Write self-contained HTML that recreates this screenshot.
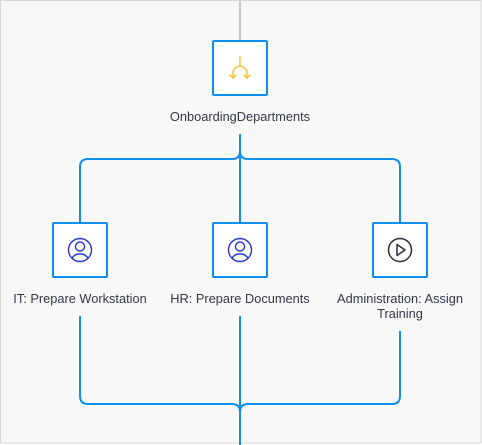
<!DOCTYPE html>
<html><head><style>
html,body{margin:0;padding:0;width:482px;height:445px;overflow:hidden;background:#fff}
svg{display:block}
text{font-family:"Liberation Sans",Arial,sans-serif;font-size:12.8px;fill:#333848}
</style></head><body>
<svg width="482" height="445" viewBox="0 0 482 445">
<rect x="0.5" y="0.5" width="480.5" height="442.5" fill="#f8f8f8" stroke="#d6d6d6"/>
<line x1="240" y1="1" x2="240" y2="41" stroke="#c8c8c8" stroke-width="2"/>
<g fill="none" stroke="#0f8fec" stroke-width="2">
<path d="M240 134 V159"/>
<path d="M80 223 V167 Q80 159 88 159 H232 Q240 159 240 151"/>
<path d="M400 223 V167 Q400 159 392 159 H248 Q240 159 240 151"/>
<path d="M240 159 V223"/>
<path d="M80 316 V396 Q80 404 88 404 H232 Q240 404 240 412"/>
<path d="M400 331 V396 Q400 404 392 404 H248 Q240 404 240 412"/>
<path d="M240 316 V445"/>
</g>
<g fill="#fff" stroke="#0f8fec" stroke-width="2">
<rect x="213" y="41" width="54" height="54" rx="1"/>
<rect x="53" y="223" width="54" height="54" rx="1"/>
<rect x="213" y="223" width="54" height="54" rx="1"/>
<rect x="373" y="223" width="54" height="54" rx="1"/>
</g>
<g fill="none" stroke="#f5c542" stroke-width="1.6" stroke-linecap="round" stroke-linejoin="round">
<path d="M240 57 V66"/>
<path d="M240 66 Q234 67 233 72 V78"/>
<path d="M240 66 Q246 67 247 72 V78"/>
<path d="M230 75 L233 78 L236 75"/>
<path d="M244 75 L247 78 L250 75"/>
</g>
<g fill="none" stroke="#2536d8" stroke-width="1.4">
<circle cx="80" cy="250" r="11.5"/><circle cx="80" cy="246.5" r="4.5"/>
<path d="M72 258.5 Q74 254 80 254 Q86 254 88 258.5"/>
<circle cx="240" cy="250" r="11.5"/><circle cx="240" cy="246.5" r="4.5"/>
<path d="M232 258.5 Q234 254 240 254 Q246 254 248 258.5"/>
</g>
<g fill="none" stroke="#2a2f3d" stroke-width="1.5">
<circle cx="400" cy="250" r="11.5"/>
<path d="M397 244.5 L405 250 L397 255.5 Z" stroke-linejoin="round"/>
</g>
<text x="240" y="121" text-anchor="middle">OnboardingDepartments</text>
<text x="80" y="303" text-anchor="middle">IT: Prepare Workstation</text>
<text x="240" y="303" text-anchor="middle">HR: Prepare Documents</text>
<text x="400" y="303" text-anchor="middle">Administration: Assign</text>
<text x="400" y="318" text-anchor="middle">Training</text>
</svg>
</body></html>
